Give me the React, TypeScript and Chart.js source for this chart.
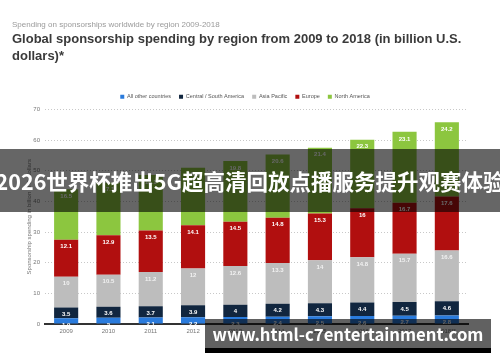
import React, { useEffect, useRef } from "react";
import { Chart, registerables } from "chart.js";

Chart.register(...registerables);

const years = ["2009", "2010", "2011", "2012", "2013", "2014", "2015", "2016", "2017", "2018**"];
const allOtherCountries = [1.9, 2, 2.1, 2.2, 2.3, 2.4, 2.5, 2.6, 2.7, 2.8];
const centralSouthAmerica = [3.5, 3.6, 3.7, 3.9, 4, 4.2, 4.3, 4.4, 4.5, 4.6];
const asiaPacific = [10, 10.5, 11.2, 12, 12.6, 13.3, 14, 14.8, 15.7, 16.6];
const europe = [12.1, 12.9, 13.5, 14.1, 14.5, 14.8, 15.3, 16, 16.7, 17.6];
const northAmerica = [16.5, 17.1, 18.1, 18.8, 19.8, 20.6, 21.4, 22.3, 23.1, 24.2];
const seriesNames = ["All other countries", "Central / South America", "Asia Pacific", "Europe", "North America"];
const seriesColors = ["#2a7bdc", "#11263f", "#bdbdbd", "#b10f0f", "#8cc63f"];

const subtitle = "Spending on sponsorships worldwide by region 2009-2018";
const titleLine1 = "Global sponsorship spending by region from 2009 to 2018 (in billion U.S.";
const titleLine2 = "dollars)*";
const yTitle = "Sponsorship spending in billion U.S. dollars";
const bannerText = "2026世界杯推出5G超高清回放点播服务提升观赛体验";
const urlText = "www.html-c7entertainment.com";

const FONT = "'Liberation Sans', Arial, Helvetica, sans-serif";

const valueLabels = {
  id: "valueLabels",
  afterDatasetsDraw(chart: any) {
    const ctx = chart.ctx;
    ctx.save();
    ctx.font = `bold 6px ${FONT}`;
    ctx.textAlign = "center";
    ctx.textBaseline = "middle";
    chart.data.datasets.forEach((ds: any, i: number) => {
      const meta = chart.getDatasetMeta(i);
      meta.data.forEach((el: any, j: number) => {
        ctx.fillStyle = i === 2 ? "rgba(255,255,255,0.8)" : "#ffffff";
        ctx.fillText(String(ds.data[j]), el.x, el.y + 7);
      });
    });
    ctx.restore();
  },
};

export default function App() {
  const canvasRef = useRef<HTMLCanvasElement | null>(null);

  useEffect(() => {
    if (!canvasRef.current) return;
    const data = [allOtherCountries, centralSouthAmerica, asiaPacific, europe, northAmerica];
    const chart = new Chart(canvasRef.current, {
      type: "bar",
      data: {
        labels: years,
        datasets: data.map((d, i) => ({
          label: seriesNames[i],
          data: d,
          backgroundColor: seriesColors[i],
          borderWidth: 0,
          barPercentage: 0.57,
          categoryPercentage: 1,
        })),
      },
      options: {
        animation: false,
        responsive: false,
        maintainAspectRatio: false,
        layout: { padding: { left: 22, right: 32, top: 86, bottom: 24 } },
        plugins: {
          legend: {
            position: "top",
            labels: {
              boxWidth: 4,
              boxHeight: 4,
              padding: 8,
              color: "#555",
              font: { size: 5.5, family: FONT },
            },
          },
          tooltip: { enabled: false },
          title: { display: false },
        },
        scales: {
          x: {
            stacked: true,
            grid: { display: false, drawTicks: false },
            border: { display: true, color: "#333", width: 2 },
            ticks: { color: "#777", font: { size: 6, family: FONT }, padding: 4 },
            afterFit: (scale: any) => {
              scale.height = 14;
            },
          },
          y: {
            stacked: true,
            min: 0,
            max: 70,
            ticks: { stepSize: 10, color: "#777", font: { size: 6, family: FONT }, padding: 5 },
            grid: { color: "#c8c8c8", drawTicks: false, lineWidth: 1 },
            border: { display: false, dash: [1, 2] },
            title: {
              display: true,
              text: yTitle,
              color: "#777",
              font: { size: 6, family: FONT },
              padding: { top: 4, bottom: 0 },
            },
            afterFit: (scale: any) => {
              scale.width = 23;
            },
          },
        },
      },
      plugins: [valueLabels],
    } as any);
    return () => chart.destroy();
  }, []);

  return (
    <div style={{ position: "fixed", left: 0, top: 0, width: 500, height: 362, background: "#fff", overflow: "hidden" }}>
      <canvas ref={canvasRef} width={500} height={362} style={{ position: "absolute", left: 0, top: 0, width: 500, height: 362 }} />
      <div style={{ position: "absolute", left: 12, top: 20, fontFamily: FONT, fontSize: 8, color: "#9a9a9a", whiteSpace: "nowrap", lineHeight: "10px" }}>
        {subtitle}
      </div>
      <div style={{ position: "absolute", left: 12, top: 30, fontFamily: FONT, fontSize: 13, fontWeight: "bold", color: "#3a3a3a", whiteSpace: "nowrap", lineHeight: "17px" }}>
        {titleLine1}
        <br />
        {titleLine2}
      </div>
      <div
        style={{
          position: "absolute",
          left: 0,
          top: 149,
          width: 500,
          height: 63,
          background: "rgba(0,0,0,0.6)",
          display: "flex",
          alignItems: "center",
          justifyContent: "center",
          fontFamily: "'Noto Sans CJK SC', sans-serif",
          fontWeight: "bold",
          fontSize: 21.5,
          color: "#fff",
          whiteSpace: "nowrap",
        }}
      >
        {bannerText}
      </div>
      <div
        style={{
          position: "absolute",
          left: 205,
          top: 319,
          width: 286,
          height: 29,
          background: "rgba(0,0,0,0.62)",
          display: "flex",
          alignItems: "center",
          justifyContent: "center",
          fontFamily: "'Noto Sans CJK SC', 'Noto Sans', sans-serif",
          fontWeight: "bold",
          fontSize: 16.7,
          color: "#fff",
          whiteSpace: "nowrap",
        }}
      >
        {urlText}
      </div>
      <div style={{ position: "absolute", left: 205, top: 348, width: 286, height: 5, background: "#000" }} />
    </div>
  );
}
